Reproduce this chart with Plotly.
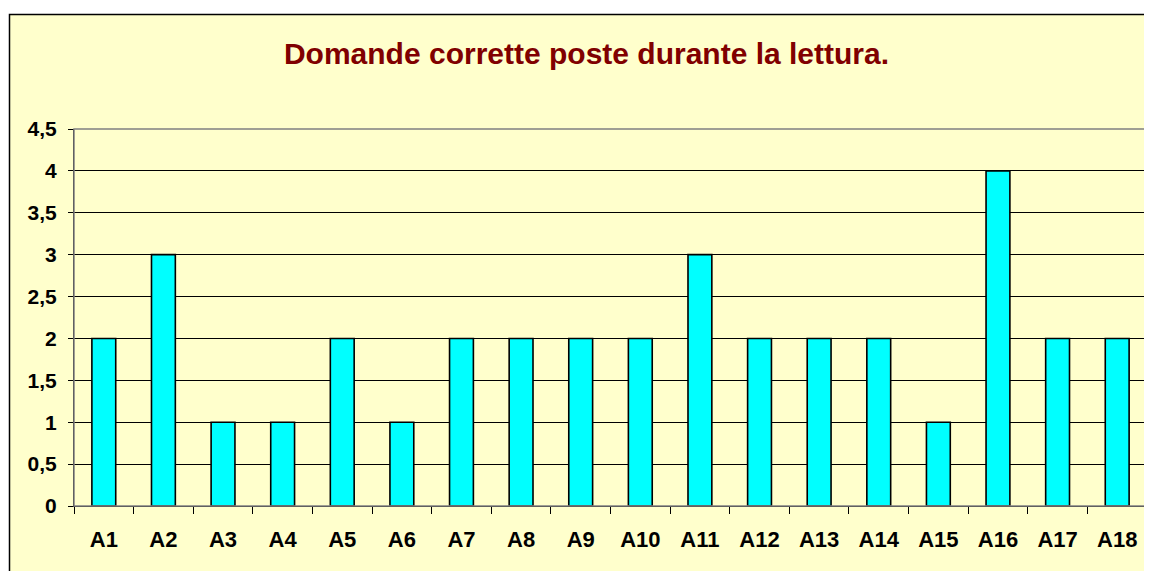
import plotly.graph_objects as go

categories = ["A1", "A2", "A3", "A4", "A5", "A6", "A7", "A8", "A9", "A10",
              "A11", "A12", "A13", "A14", "A15", "A16", "A17", "A18"]
values = [2, 3, 1, 1, 2, 1, 2, 2, 2, 2, 3, 2, 2, 2, 1, 4, 2, 2]
title_text = "Domande corrette poste durante la lettura."

# page has an 8px body margin; work in page pixel coordinates
OFF = 8
W, H = 1152 - OFF, 571 - OFF
plot_left, plot_right, plot_top, plot_bottom = 74, 1147, 129, 506
L = plot_left - OFF
R = W - (plot_right - OFF)
T = plot_top - OFF
B = H - (plot_bottom - OFF)
pw, ph = W - L - R, H - T - B


def px_x(px):
    return (px - OFF - L) / pw


def px_y(py):
    return (H - B - (py - OFF)) / ph


FONT = "Liberation Sans, Arial, sans-serif"

fig = go.Figure()
fig.add_trace(go.Bar(
    x=categories, y=values,
    marker=dict(color="#00FFFF", line=dict(color="#000000", width=1.6)),
))

fig.update_layout(
    width=W, height=H,
    margin=dict(l=L, r=R, t=T, b=B),
    paper_bgcolor="#FFFFFF",
    plot_bgcolor="#FFFF00",
    separators=",.",
    bargap=0.6,
    showlegend=False,
    font=dict(family=FONT, color="#000000"),
    title=dict(text="<b>" + title_text + "</b>", x=px_x(586.5), xref="paper",
               xanchor="center", y=1 - (53 - OFF) / H, yanchor="middle",
               font=dict(size=30, color="#800000", family=FONT)),
    shapes=[
        dict(type="rect", xref="paper", yref="paper", layer="below",
             x0=px_x(9.5), x1=px_x(1170), y0=px_y(590), y1=px_y(14.5),
             fillcolor="#FFFFCC", line=dict(color="#000000", width=1.5)),
        dict(type="rect", xref="paper", yref="paper", layer="above",
             x0=0, x1=1, y0=0, y1=1,
             line=dict(color="#808080", width=1.5)),
    ],
)

fig.update_xaxes(
    type="category",
    showgrid=False,
    showline=True, linecolor="#000000", linewidth=1,
    ticks="outside", tickson="boundaries", ticklen=7, tickcolor="#000000",
    tickfont=dict(size=22, color="#000000", family=FONT, weight="bold"),
    ticklabelstandoff=14,
)
fig.update_yaxes(
    range=[0, 4.5], dtick=0.5, tick0=0,
    showgrid=True, gridcolor="#000000", gridwidth=1,
    showline=True, linecolor="#000000", linewidth=1,
    zeroline=False,
    ticks="outside", ticklen=5, tickcolor="#000000",
    tickfont=dict(size=21, color="#000000", family=FONT, weight="bold"),
    ticklabelstandoff=7,
)

fig.write_html("out.html")
